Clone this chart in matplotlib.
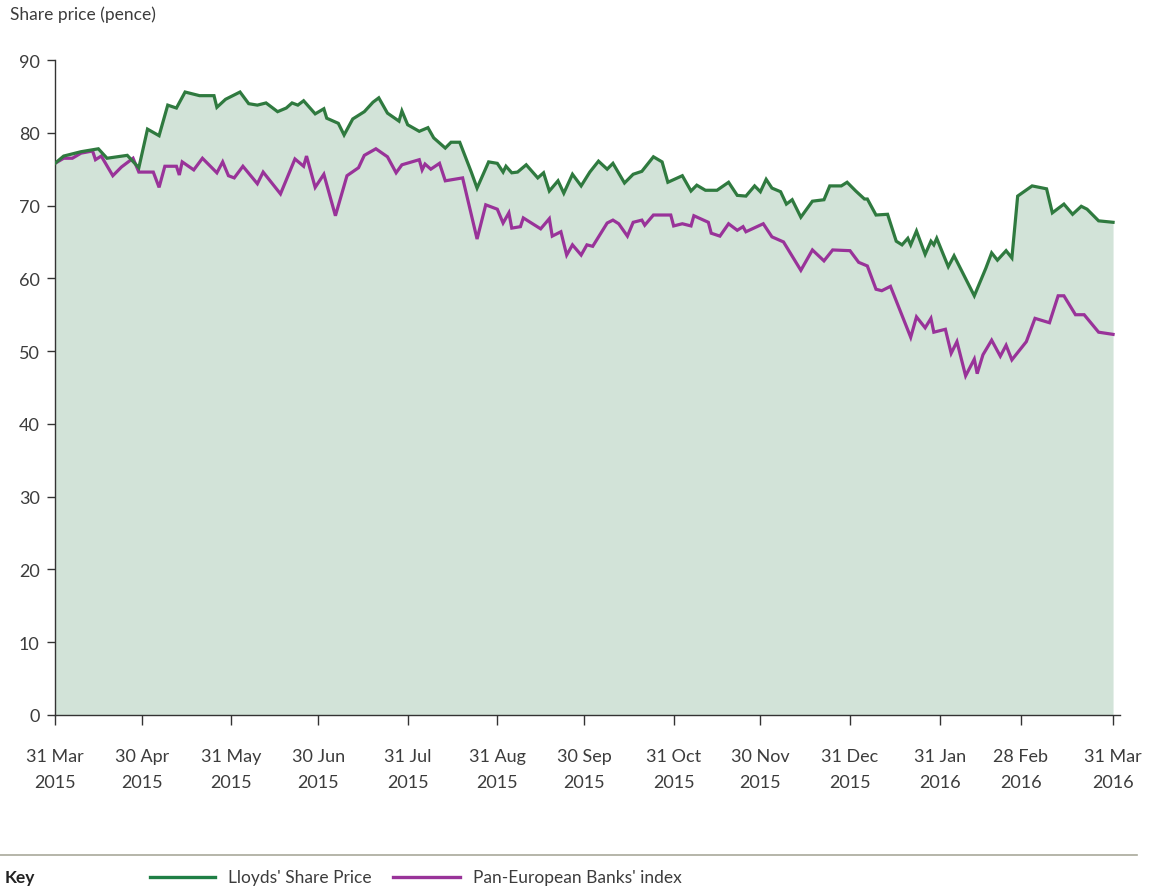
"""
Lloyds' share price vs Pan-European Banks' index, 31 Mar 2015 - 31 Mar 2016.
Saves out.png (1149x895).
"""
import matplotlib
matplotlib.use("Agg")
import matplotlib.pyplot as plt
import pandas as pd
from matplotlib.lines import Line2D

START = pd.Timestamp("2015-03-31")

# days since 31 Mar 2015
LLOYDS_DAYS = [
    0, 3, 9, 15, 18, 25, 29, 32, 36, 39,
    42, 45, 50, 55, 56, 59, 64, 67, 70, 73,
    77, 80, 82, 84, 86, 90, 93, 94, 98, 100,
    103, 107, 110, 112, 115, 119, 120, 122, 126, 129,
    131, 135, 137, 140, 144, 146, 150, 153, 155, 156,
    158, 160, 163, 167, 169, 171, 174, 176, 179, 182,
    185, 188, 191, 193, 197, 200, 203, 207, 210, 212,
    217, 220, 222, 225, 229, 233, 236, 239, 242, 244,
    246, 248, 251, 253, 255, 258, 262, 266, 268, 272,
    274, 277, 280, 281, 284, 288, 291, 293, 295, 296,
    298, 301, 303, 304, 305, 309, 311, 318, 322, 324,
    326, 329, 331, 333, 338, 343, 345, 349, 352, 355,
    357, 361, 366,
]
LLOYDS_PENCE = [
    75.8, 76.8, 77.4, 77.8, 76.5, 76.9, 75.2, 80.5, 79.6, 83.8,
    83.4, 85.6, 85.1, 85.1, 83.5, 84.6, 85.6, 84.0, 83.8, 84.1,
    82.9, 83.4, 84.1, 83.8, 84.4, 82.6, 83.3, 82.0, 81.3, 79.7,
    81.9, 82.9, 84.2, 84.8, 82.7, 81.6, 83.0, 81.1, 80.2, 80.7,
    79.3, 77.9, 78.7, 78.7, 74.6, 72.4, 76.0, 75.8, 74.6, 75.4,
    74.5, 74.6, 75.6, 73.8, 74.5, 72.0, 73.4, 71.7, 74.3, 72.7,
    74.6, 76.1, 75.0, 75.8, 73.1, 74.3, 74.7, 76.7, 76.0, 73.2,
    74.1, 72.0, 72.8, 72.1, 72.1, 73.2, 71.4, 71.3, 72.7, 71.9,
    73.6, 72.4, 71.9, 70.2, 70.8, 68.4, 70.6, 70.8, 72.7, 72.7,
    73.2, 72.0, 70.9, 70.9, 68.7, 68.8, 65.1, 64.6, 65.5, 64.6,
    66.5, 63.3, 65.1, 64.6, 65.5, 61.6, 63.1, 57.6, 61.4, 63.5,
    62.5, 63.8, 62.8, 71.3, 72.7, 72.3, 69.0, 70.2, 68.8, 69.9,
    69.5, 67.9, 67.7,
]

BANKS_DAYS = [
    0, 3, 6, 9, 13, 14, 16, 20, 23, 27,
    29, 34, 36, 38, 42, 43, 44, 48, 51, 56,
    58, 60, 62, 65, 70, 72, 78, 83, 86, 87,
    90, 93, 97, 101, 105, 107, 111, 115, 118, 120,
    126, 127, 128, 130, 133, 135, 141, 146, 149, 153,
    155, 157, 158, 161, 162, 168, 171, 172, 175, 177,
    179, 182, 184, 186, 191, 193, 195, 198, 200, 203,
    204, 207, 213, 214, 217, 220, 221, 226, 227, 230,
    233, 236, 238, 239, 245, 248, 252, 258, 262, 266,
    269, 275, 278, 281, 284, 286, 289, 296, 298, 301,
    303, 304, 308, 310, 312, 315, 318, 319, 321, 324,
    327, 329, 331, 336, 339, 344, 347, 349, 353, 356,
    361, 366,
]
BANKS_REBASED = [
    75.8, 76.5, 76.5, 77.2, 77.5, 76.3, 76.8, 74.1, 75.3, 76.5,
    74.6, 74.6, 72.5, 75.4, 75.4, 74.2, 76.0, 74.9, 76.5, 74.5,
    76.0, 74.1, 73.8, 75.4, 73.0, 74.6, 71.6, 76.4, 75.4, 76.8,
    72.5, 74.3, 68.6, 74.1, 75.2, 76.9, 77.8, 76.7, 74.5, 75.6,
    76.3, 74.9, 75.7, 75.0, 75.8, 73.4, 73.8, 65.4, 70.1, 69.5,
    67.6, 69.0, 66.9, 67.1, 68.3, 66.8, 68.2, 65.8, 66.4, 63.2,
    64.6, 63.2, 64.6, 64.4, 67.6, 68.0, 67.5, 65.8, 67.7, 68.0,
    67.3, 68.7, 68.7, 67.2, 67.5, 67.2, 68.6, 67.7, 66.2, 65.8,
    67.5, 66.6, 67.1, 66.4, 67.5, 65.7, 65.0, 61.1, 63.9, 62.4,
    63.9, 63.8, 62.2, 61.7, 58.5, 58.3, 58.9, 51.9, 54.7, 53.2,
    54.5, 52.6, 53.0, 49.7, 51.3, 46.6, 48.9, 46.9, 49.5, 51.5,
    49.3, 50.8, 48.8, 51.3, 54.5, 53.9, 57.6, 57.6, 55.0, 55.0,
    52.6, 52.3,
]

TICK_DATES = [
    "2015-03-31", "2015-04-30", "2015-05-31", "2015-06-30", "2015-07-31",
    "2015-08-31", "2015-09-30", "2015-10-31", "2015-11-30", "2015-12-31",
    "2016-01-31", "2016-02-28", "2016-03-31",
]
TICK_LABELS = [
    "31 Mar\n2015", "30 Apr\n2015", "31 May\n2015", "30 Jun\n2015", "31 Jul\n2015",
    "31 Aug\n2015", "30 Sep\n2015", "31 Oct\n2015", "30 Nov\n2015", "31 Dec\n2015",
    "31 Jan\n2016", "28 Feb\n2016", "31 Mar\n2016",
]
Y_TICKS = [0, 10, 20, 30, 40, 50, 60, 70, 80, 90]

GREEN = "#2f7a3f"
PURPLE = "#993399"
FILL = "#d2e3d8"
TEXT = "#3c3c3c"
AXIS = "#333333"

plt.rcParams["font.family"] = ["Lato", "DejaVu Sans"]

fig = plt.figure(figsize=(11.49, 8.95), dpi=100)
ax = fig.add_axes([55 / 1149, 1 - 716 / 895, (1120 - 55) / 1149, (716 - 61) / 895])

ax.fill_between(LLOYDS_DAYS, LLOYDS_PENCE, 0, color=FILL, linewidth=0, zorder=1)
ax.plot(LLOYDS_DAYS, LLOYDS_PENCE, color=GREEN, lw=2.3, zorder=3, solid_joinstyle="miter")
ax.plot(BANKS_DAYS, BANKS_REBASED, color=PURPLE, lw=2.3, zorder=2, solid_joinstyle="miter")

tick_pos = [(pd.Timestamp(d) - START).days for d in TICK_DATES]
ax.set_xticks(tick_pos)
ax.set_xticklabels(TICK_LABELS, linespacing=1.75)
ax.set_yticks(Y_TICKS)
ax.set_xlim(0, 368.4)
ax.set_ylim(0, 90)

for side in ("top", "right"):
    ax.spines[side].set_visible(False)
for side in ("left", "bottom"):
    ax.spines[side].set_color(AXIS)
    ax.spines[side].set_linewidth(1.0)

ax.tick_params(axis="x", length=7, width=1, color=AXIS, pad=17,
               labelsize=13, labelcolor=TEXT)
ax.tick_params(axis="y", length=6, width=1, color=AXIS, pad=5,
               labelsize=13, labelcolor=TEXT)

fig.text(10 / 1149, 1 - 15 / 895, "Share price (pence)", fontsize=12.5,
         color=TEXT, ha="left", va="center")

# key strip at the bottom
fig.add_artist(Line2D([0, 1137 / 1149], [1 - 856 / 895] * 2, color="#a9a99b", lw=1.2))
key_y = 1 - 878 / 895
fig.text(5 / 1149, key_y, "Key", fontsize=12.5, fontweight="bold", color="#222222",
         ha="left", va="center")
fig.add_artist(Line2D([150 / 1149, 215 / 1149], [key_y] * 2, color="#1f7f45", lw=2.4))
fig.text(228 / 1149, key_y, "Lloyds' Share Price", fontsize=12.5, color=TEXT,
         ha="left", va="center")
fig.add_artist(Line2D([393 / 1149, 460 / 1149], [key_y] * 2, color=PURPLE, lw=2.4))
fig.text(473 / 1149, key_y, "Pan-European Banks' index", fontsize=12.5, color=TEXT,
         ha="left", va="center")

fig.savefig("out.png", dpi=100)
plt.close(fig)
